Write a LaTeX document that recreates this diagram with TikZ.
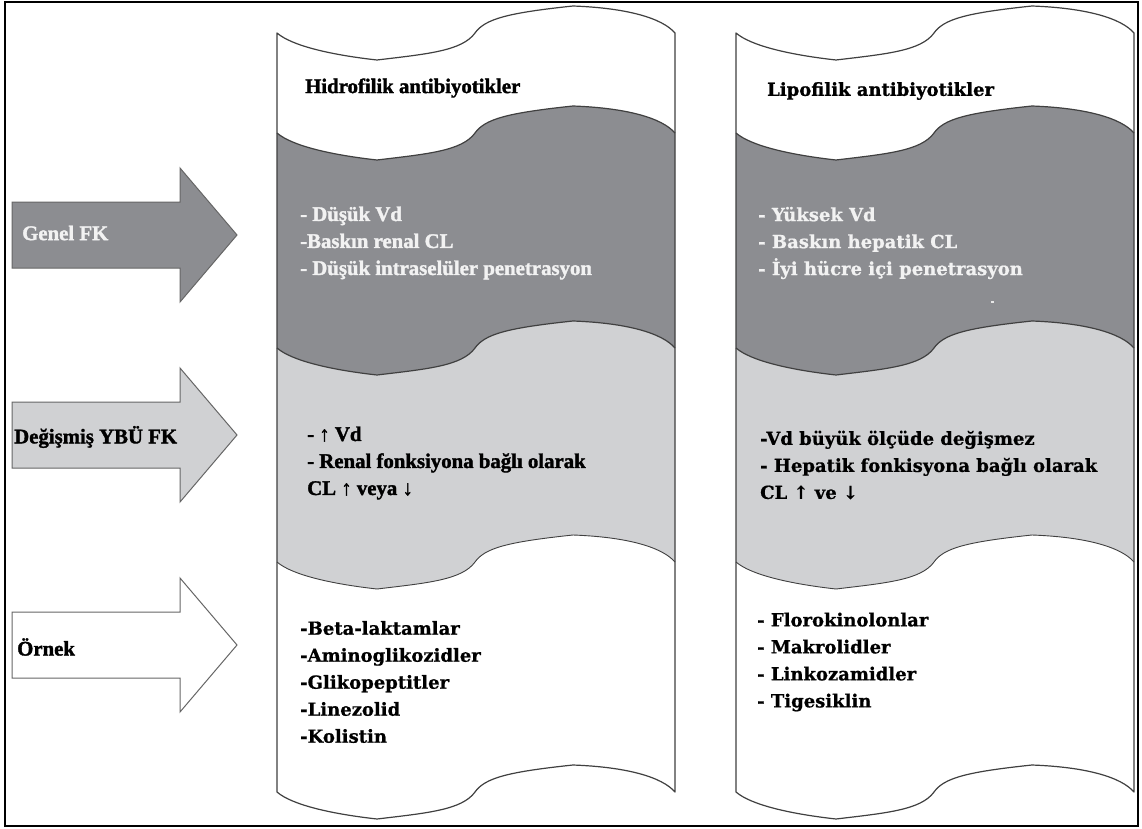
\documentclass[tikz,border=0pt]{standalone}
\usepackage{fontspec}
\newfontfamily\tmsfont{Liberation Serif}[BoldFeatures={FakeBold=1.6}]
\newfontfamily\cmbfont{DejaVu Serif}[BoldFeatures={FakeBold=0.8}]
\definecolor{darkband}{RGB}{140,141,145}
\definecolor{lightband}{RGB}{208,209,211}
\definecolor{edgegray}{RGB}{64,64,64}
\definecolor{paletext}{RGB}{242,242,242}
\newcommand{\wf}[2]{({#1},{#2}) .. controls ({#1+15},{#2+13}) and ({#1+55},{#2+22}) .. ({#1+100},{#2+27})
 .. controls ({#1+150},{#2+21}) and ({#1+185},{#2+18}) .. ({#1+198},{#2})
 .. controls ({#1+208},{#2-14}) and ({#1+230},{#2-20}) .. ({#1+296},{#2-27})
 .. controls ({#1+350},{#2-25}) and ({#1+385},{#2-15}) .. ({#1+398},{#2})}
\newcommand{\wb}[2]{({#1+398},{#2}) .. controls ({#1+385},{#2-15}) and ({#1+350},{#2-25}) .. ({#1+296},{#2-27})
 .. controls ({#1+230},{#2-20}) and ({#1+208},{#2-14}) .. ({#1+198},{#2})
 .. controls ({#1+185},{#2+18}) and ({#1+150},{#2+21}) .. ({#1+100},{#2+27})
 .. controls ({#1+55},{#2+22}) and ({#1+15},{#2+13}) .. ({#1},{#2})}
\begin{document}
\begin{tikzpicture}[x=1pt,y=-1pt,
  edge/.style={draw=edgegray, line width=1.2pt, line join=round},
  arrowshape/.style={draw=edgegray!80, line width=1pt},
  tms/.style={inner sep=0pt, anchor=west, align=left, font=\tmsfont\bfseries\fontsize{20.8}{27}\selectfont},
  cmb/.style={inner sep=0pt, anchor=west, align=left, font=\cmbfont\bfseries\fontsize{18}{27}\selectfont}]
\useasboundingbox (0,0) rectangle (1142,829);
\fill[white] (0,0) rectangle (1142,829);
% columns
\foreach \X in {277,736}{
  \fill[darkband] \wf{\X}{133} -- \wb{\X}{348} -- cycle;
  \fill[lightband] \wf{\X}{348} -- \wb{\X}{562} -- cycle;
  \draw[edge] \wf{\X}{133};
  \draw[edge] \wf{\X}{348};
  \draw[edge, line width=0.9pt] \wf{\X}{562};
  \draw[edge] \wf{\X}{33} -- \wb{\X}{792} -- cycle;
}
% arrows
\draw[arrowshape, fill=darkband] (12,202) -- (180,202) -- (180,168) -- (237,235) -- (180,302) -- (180,268) -- (12,268) -- cycle;
\draw[arrowshape, fill=lightband] (12,402) -- (180,402) -- (180,368) -- (237,435) -- (180,502) -- (180,468) -- (12,468) -- cycle;
\draw[arrowshape, fill=white] (12,612) -- (180,612) -- (180,578) -- (237,645) -- (180,712) -- (180,678) -- (12,678) -- cycle;
\node[tms, text=paletext] (genel) at (22,233) {Genel FK};
\node[tms] (degismis) at (14,437) {Değişmiş YBÜ FK};
\node[tms] (ornek) at (17,647) {Örnek};
% headers
\node[tms] (hidro) at (305,88) {Hidrofilik antibiyotikler};
\node[cmb] (lipo) at (767,91) {Lipofilik antibiyotikler};
% dark band texts
\node[tms, text=paletext] (hidrofk) at (300,243) {- Düşük Vd\\-Baskın renal CL\\- Düşük intraselüler penetrasyon};
\node[cmb, text=paletext] (lipofk) at (758,243) {- Yüksek Vd\\- Baskın hepatik CL\\- İyi hücre içi penetrasyon};
\fill[paletext!90!darkband] (991,301) rectangle (993.5,302.5);
% light band texts
\node[tms] (hidroybu) at (307,463) {- ↑ Vd\\- Renal fonksiyona bağlı olarak\\CL ↑ veya ↓};
\node[cmb] (lipoybu) at (760,465) {-Vd büyük ölçüde değişmez\\- Hepatik fonkisyona bağlı olarak\\CL ↑ ve ↓};
% examples
\node[cmb] (hidroex) at (300,682) {-Beta-laktamlar\\-Aminoglikozidler\\-Glikopeptitler\\-Linezolid\\-Kolistin};
\node[cmb] (lipoex) at (757,662) {- Florokinolonlar\\- Makrolidler\\- Linkozamidler\\- Tigesiklin};
% frame
\draw[line width=2.5pt] (5,2) rectangle (1138,826);
\end{tikzpicture}
\end{document}
